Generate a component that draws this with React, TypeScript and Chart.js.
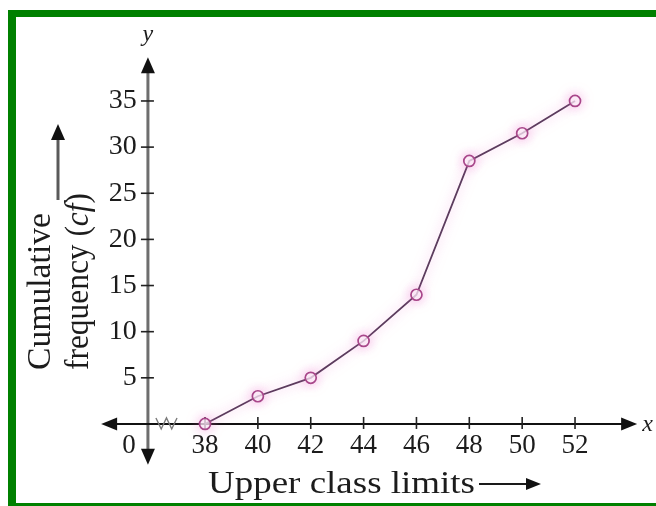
import { useEffect, useRef } from "react";
import { Chart, registerables } from "chart.js";

Chart.register(...registerables);

// ---- data ----
const UPPER_LIMITS = [38, 40, 42, 44, 46, 48, 50, 52];
const CUM_FREQ = [0, 3, 5, 9, 14, 28.5, 31.5, 35];
const X_TICKS = [38, 40, 42, 44, 46, 48, 50, 52];
const Y_TICKS = [5, 10, 15, 20, 25, 30, 35];
const ORIGIN_LABEL = "0";
const X_TITLE = "Upper class limits";
const Y_TITLE_1 = "Cumulative";
const Y_TITLE_2 = ["frequency (", "cf", ")"];
const X_AXIS_NAME = "x";
const Y_AXIS_NAME = "y";

// ---- scale geometry (data units) ----
const X_MIN = 34;
const X_MAX = 54.5;
const Y_MIN = -5;
const Y_MAX = 41;
const X_ORIGIN = 35.84; // where the y-axis crosses the broken x-axis
const Y_LABEL_ANCHOR = 35.42; // right edge of the y tick labels
const ZERO_LABEL_AT = 35.12;
const X_AXIS_FROM = 34.07;
const X_AXIS_TO = 54.35;
const Y_AXIS_FROM = -4.43;
const Y_AXIS_TO = 39.73;

const SERIF = '"Liberation Serif", "Times New Roman", Times, serif';
const TEXT = "#1c1c1c";

function arrowHead(ctx: CanvasRenderingContext2D, tx: number, ty: number, dx: number, dy: number, len: number, half: number) {
  const bx = tx - dx * len;
  const by = ty - dy * len;
  const px = -dy;
  const py = dx;
  ctx.beginPath();
  ctx.moveTo(tx, ty);
  ctx.lineTo(bx + px * half, by + py * half);
  ctx.lineTo(bx - px * half, by - py * half);
  ctx.closePath();
  ctx.fill();
}

function line(ctx: CanvasRenderingContext2D, x1: number, y1: number, x2: number, y2: number) {
  ctx.beginPath();
  ctx.moveTo(x1, y1);
  ctx.lineTo(x2, y2);
  ctx.stroke();
}

function stretched(ctx: CanvasRenderingContext2D, text: string, x: number, y: number, target: number) {
  const w = ctx.measureText(text).width;
  ctx.save();
  ctx.translate(x, y);
  ctx.scale(target / w, 1);
  ctx.fillText(text, 0, 0);
  ctx.restore();
}

const axesPlugin = {
  id: "mathAxes",
  beforeDatasetsDraw(chart: any) {
    const { ctx } = chart;
    const xs = chart.scales.x;
    const ys = chart.scales.y;
    const ox = xs.getPixelForValue(X_ORIGIN);
    const oy = ys.getPixelForValue(0);
    const xl = xs.getPixelForValue(X_AXIS_FROM);
    const xr = xs.getPixelForValue(X_AXIS_TO);
    const yt = ys.getPixelForValue(Y_AXIS_TO);
    const yb = ys.getPixelForValue(Y_AXIS_FROM);
    ctx.save();

    // y axis (grey)
    ctx.strokeStyle = "#6e6e6e";
    ctx.lineWidth = 3;
    line(ctx, ox, yt + 10, ox, yb - 10);
    ctx.fillStyle = "#111";
    arrowHead(ctx, ox, yt, 0, -1, 16, 7);
    arrowHead(ctx, ox, yb, 0, 1, 16, 7);

    // x axis
    ctx.strokeStyle = "#111";
    ctx.lineWidth = 2;
    line(ctx, xl + 10, oy, xr - 10, oy);
    arrowHead(ctx, xl, oy, -1, 0, 16, 6.5);
    arrowHead(ctx, xr, oy, 1, 0, 16, 6.5);

    // tick marks crossing the axes
    ctx.lineWidth = 1.6;
    ctx.strokeStyle = "#222";
    xs.ticks.forEach((t: any) => {
      if (t.value < 37) return;
      const px = xs.getPixelForValue(t.value);
      line(ctx, px, oy - 7, px, oy + 5);
    });
    ys.ticks.forEach((t: any) => {
      const py = ys.getPixelForValue(t.value);
      line(ctx, ox - 7, py, ox + 6, py);
    });

    // axis break zig-zag
    const z0 = xs.getPixelForValue(X_ORIGIN) + 8;
    const z1 = xs.getPixelForValue(38) - 28;
    ctx.strokeStyle = "#7a7a7a";
    ctx.lineWidth = 1.4;
    ctx.beginPath();
    const n = 4;
    for (let i = 0; i <= n; i++) {
      const px = z0 + ((z1 - z0) * i) / n;
      const py = oy + (i % 2 === 0 ? -6 : 5);
      if (i === 0) ctx.moveTo(px, py);
      else ctx.lineTo(px, py);
    }
    ctx.stroke();

    // axis names
    ctx.fillStyle = TEXT;
    ctx.font = `italic 24px ${SERIF}`;
    ctx.textAlign = "center";
    ctx.textBaseline = "alphabetic";
    ctx.fillText(Y_AXIS_NAME, ox, 41);
    ctx.textAlign = "left";
    ctx.textBaseline = "middle";
    ctx.fillText(X_AXIS_NAME, xr + 5, oy + 1);

    // x title with arrow
    ctx.font = `31px ${SERIF}`;
    ctx.textAlign = "left";
    ctx.textBaseline = "alphabetic";
    stretched(ctx, X_TITLE, 208, 493, 267);
    ctx.strokeStyle = "#1a1a1a";
    ctx.lineWidth = 2;
    line(ctx, 479, 484, 528, 484);
    ctx.fillStyle = "#111";
    arrowHead(ctx, 541, 484, 1, 0, 15, 6);

    // y title (rotated)
    ctx.fillStyle = TEXT;
    ctx.save();
    ctx.translate(50, 370);
    ctx.rotate(-Math.PI / 2);
    ctx.font = `33px ${SERIF}`;
    stretched(ctx, Y_TITLE_1, 0, 0, 157);
    ctx.restore();

    ctx.save();
    ctx.translate(88, 370);
    ctx.rotate(-Math.PI / 2);
    const fonts = [`33px ${SERIF}`, `italic 33px ${SERIF}`, `33px ${SERIF}`];
    let total = 0;
    const widths = Y_TITLE_2.map((s, i) => {
      ctx.font = fonts[i];
      const w = ctx.measureText(s).width;
      total += w;
      return w;
    });
    ctx.scale(177 / total, 1);
    let cx = 0;
    Y_TITLE_2.forEach((s, i) => {
      ctx.font = fonts[i];
      ctx.fillText(s, cx, 0);
      cx += widths[i];
    });
    ctx.restore();

    // up arrow beside y title
    ctx.strokeStyle = "#5a5a5a";
    ctx.lineWidth = 3;
    line(ctx, 58, 200, 58, 138);
    ctx.fillStyle = "#111";
    arrowHead(ctx, 58, 124, 0, -1, 16, 7);

    ctx.restore();
  },
};

const glowPlugin = {
  id: "glow",
  beforeDatasetDraw(chart: any) {
    chart.ctx.save();
    chart.ctx.shadowColor = "rgba(235, 110, 200, 0.6)";
    chart.ctx.shadowBlur = 12;
  },
  afterDatasetDraw(chart: any) {
    chart.ctx.restore();
  },
};

export default function App() {
  const ref = useRef<HTMLCanvasElement | null>(null);

  useEffect(() => {
    if (!ref.current) return;
    const chart = new Chart(ref.current, {
      type: "line",
      data: {
        datasets: [
          {
            data: UPPER_LIMITS.map((x, i) => ({ x, y: CUM_FREQ[i] })),
            borderColor: "#5c3c5e",
            borderWidth: 1.8,
            pointRadius: 5.5,
            pointBorderWidth: 1.7,
            pointBorderColor: "#a8478a",
            pointBackgroundColor: "rgba(255,255,255,0.7)",
            tension: 0,
            fill: false,
          },
        ],
      },
      options: {
        responsive: false,
        animation: false,
        events: [],
        layout: {
          padding: { left: 99.3, right: 656 - 641.1, top: 45.6, bottom: 506 - 470.1 },
        },
        plugins: {
          legend: { display: false },
          tooltip: { enabled: false },
          title: { display: false },
        },
        scales: {
          x: {
            type: "linear",
            min: X_MIN,
            max: X_MAX,
            position: { y: 0 } as any,
            afterFit: (s: any) => {
              s.height = 0;
            },
            afterBuildTicks: (s: any) => {
              s.ticks = [ZERO_LABEL_AT, ...X_TICKS].map((v) => ({ value: v }));
            },
            ticks: {
              autoSkip: false,
              maxRotation: 0,
              padding: 3,
              color: TEXT,
              font: { family: SERIF, size: 27, lineHeight: 1 },
              callback: (v: any) => (Number(v) < 37 ? ORIGIN_LABEL : String(v)),
            },
            grid: { drawOnChartArea: false, drawTicks: true, tickLength: 5, tickColor: "rgba(0,0,0,0)" },
            border: { display: false },
          },
          y: {
            type: "linear",
            min: Y_MIN,
            max: Y_MAX,
            position: { x: Y_LABEL_ANCHOR } as any,
            afterFit: (s: any) => {
              s.width = 0;
            },
            afterBuildTicks: (s: any) => {
              s.ticks = Y_TICKS.map((v) => ({ value: v }));
            },
            ticks: {
              autoSkip: false,
              padding: 6,
              color: TEXT,
              font: { family: SERIF, size: 28, lineHeight: 1 },
              callback: (v: any) => String(v),
            },
            grid: { drawOnChartArea: false, drawTicks: true, tickLength: 5, tickColor: "rgba(0,0,0,0)" },
            border: { display: false },
          },
        },
      },
      plugins: [axesPlugin, glowPlugin],
    });
    return () => chart.destroy();
  }, []);

  return (
    <div
      style={{
        position: "fixed",
        left: 0,
        top: 0,
        width: 656,
        height: 506,
        overflow: "hidden",
        background: "#fff",
      }}
    >
      <canvas ref={ref} width={656} height={506} style={{ position: "absolute", left: 0, top: 0 }} />
      <div
        style={{
          position: "absolute",
          left: 8,
          top: 10,
          width: 680,
          height: 501,
          boxSizing: "border-box",
          borderLeft: "8px solid #008000",
          borderTop: "7px solid #008000",
          borderBottom: "8px solid #008000",
          pointerEvents: "none",
        }}
      />
    </div>
  );
}
